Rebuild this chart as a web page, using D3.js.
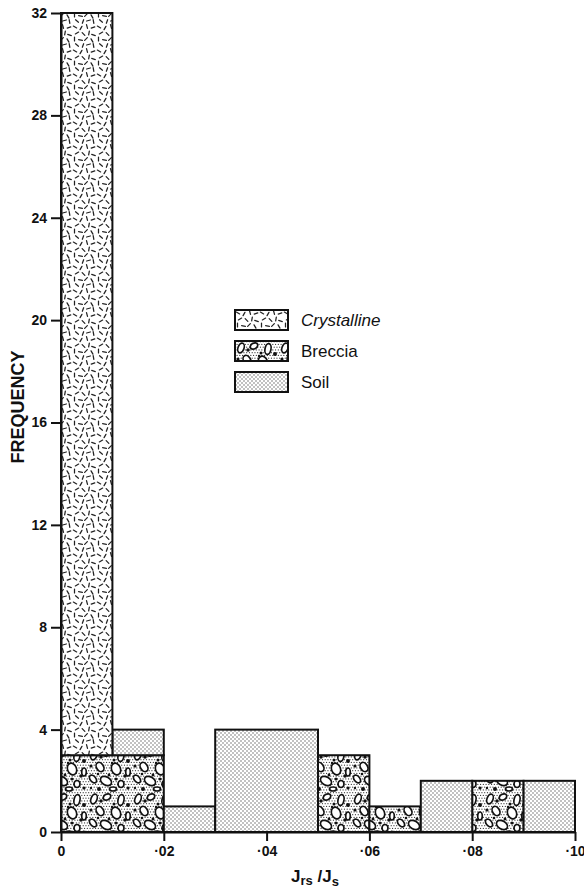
<!DOCTYPE html>
<html>
<head>
<meta charset="utf-8">
<script src="https://cdn.jsdelivr.net/npm/d3@7"></script>
<style>
  body { margin: 0; background: #fff; }
  svg { display: block; font-family: "Liberation Sans", Arial, sans-serif; }
</style>
</head>
<body>
<div id="chart"></div>
<script>
const width = 584;
const height = 892;
const margin = { top: 13, right: 9, bottom: 60, left: 61 };

// 数据：每个区间宽 0.01
const binStarts = [0, 0.01, 0.02, 0.03, 0.04, 0.05, 0.06, 0.07, 0.08, 0.09];
const binWidth = 0.01;
const categories = ["Breccia", "Soil", "Crystalline"];   // 堆叠顺序（自下而上）
const breccia = [3, 3, 0, 0, 0, 3, 1, 0, 2, 0];
const soil = [0, 1, 1, 4, 4, 0, 0, 2, 0, 2];
const crystalline = [29, 0, 0, 0, 0, 0, 0, 0, 0, 0];
const legendOrder = ["Crystalline", "Breccia", "Soil"];
const yTicks = [0, 4, 8, 12, 16, 20, 24, 28, 32];
const xTicks = [0, 0.02, 0.04, 0.06, 0.08, 0.10];

const series = { Breccia: breccia, Soil: soil, Crystalline: crystalline };

const x = d3.scaleLinear().domain([0, 0.10]).range([margin.left, width - margin.right]);
const y = d3.scaleLinear().domain([0, 32]).range([height - margin.bottom, margin.top]);

const svg = d3.select("#chart").append("svg")
  .attr("width", width)
  .attr("height", height);

// 图案定义
const defs = svg.append("defs");

// Soil：细点
const soilPat = defs.append("pattern")
  .attr("id", "pat-Soil").attr("patternUnits", "userSpaceOnUse")
  .attr("width", 4).attr("height", 4);
soilPat.append("rect").attr("width", 4).attr("height", 4).attr("fill", "#fff");
[[1, 1], [3, 3]].forEach(([cx, cy]) => {
  soilPat.append("circle").attr("cx", cx).attr("cy", cy).attr("r", 0.7).attr("fill", "#555");
});

// Crystalline：短划线
const crysPat = defs.append("pattern")
  .attr("id", "pat-Crystalline").attr("patternUnits", "userSpaceOnUse")
  .attr("width", 24).attr("height", 24);
crysPat.append("rect").attr("width", 24).attr("height", 24).attr("fill", "#fff");
const dashes = [
  [3, 3, 30], [9, 4, 120], [15, 2.5, 75], [21, 3.5, 160],
  [5, 9, 150], [11.5, 10, 45], [17, 9, 100], [21.5, 11, 20],
  [2.5, 15, 90], [8.5, 16, 10], [14, 15, 135], [20, 16.5, 60],
  [5, 21, 40], [11, 21.5, 110], [16.5, 20.5, 165], [21.5, 21.5, 80]
];
dashes.forEach(([cx, cy, a]) => {
  crysPat.append("line")
    .attr("x1", -1.9).attr("x2", 1.9).attr("y1", 0).attr("y2", 0)
    .attr("transform", `translate(${cx},${cy}) rotate(${a})`)
    .attr("stroke", "#222").attr("stroke-width", 1.25).attr("stroke-linecap", "round");
});

// Breccia：点状底纹 + 白色卵石 + 黑点
const brecPat = defs.append("pattern")
  .attr("id", "pat-Breccia").attr("patternUnits", "userSpaceOnUse")
  .attr("width", 44).attr("height", 44);
brecPat.append("rect").attr("width", 44).attr("height", 44).attr("fill", "#fff");
for (let i = 0; i < 16; i++) {
  for (let j = 0; j < 16; j++) {
    brecPat.append("circle")
      .attr("cx", i * 2.75 + (j % 2) * 1.375 + 0.7).attr("cy", j * 2.75 + 0.7)
      .attr("r", 0.6).attr("fill", "#333");
  }
}
const pebbles = [
  [6, 7, 3, 5, 20], [19, 5, 4, 2.8, -30], [33, 8, 3, 5.5, 10],
  [12, 19, 5, 3.5, 60], [28, 21, 4.5, 6, -20], [40, 24, 2.3, 4, 0],
  [5, 31, 2.8, 4.5, -40], [18, 33, 6, 4, 30], [33, 36, 3, 3.5, 0], [25, 41, 3.5, 2, 0]
];
pebbles.forEach(([cx, cy, rx, ry, a]) => {
  brecPat.append("ellipse")
    .attr("rx", rx).attr("ry", ry)
    .attr("transform", `translate(${cx},${cy}) rotate(${a})`)
    .attr("fill", "#fff").attr("stroke", "#111").attr("stroke-width", 1.7);
});
[[13, 9, 1.8], [26, 12, 1.5], [40, 13, 2], [3, 18, 1.6], [21, 27, 1.4], [37, 28, 1.8],
 [10, 26, 1.3], [11, 41, 2], [28, 31, 1.5], [40, 40, 1.6], [3, 40, 1.2], [24, 15, 1.2]].forEach(([cx, cy, r]) => {
  brecPat.append("circle").attr("cx", cx).attr("cy", cy).attr("r", r).attr("fill", "#111");
});

// 计算堆叠，并合并相邻且高度相同的区块
const blocks = [];
const base = binStarts.map(() => 0);
categories.forEach(cat => {
  const vals = series[cat];
  let current = null;
  binStarts.forEach((x0, i) => {
    const v = vals[i];
    const y0 = base[i];
    const y1 = y0 + v;
    if (v > 0) {
      if (current && current.endIndex === i - 1 && current.y0 === y0 && current.y1 === y1) {
        current.x1 = x0 + binWidth;
        current.endIndex = i;
      } else {
        current = { cat, x0, x1: x0 + binWidth, y0, y1, endIndex: i };
        blocks.push(current);
      }
    } else {
      current = null;
    }
    base[i] = y1;
  });
});

svg.append("g")
  .selectAll("rect")
  .data(blocks)
  .enter().append("rect")
  .attr("x", d => x(d.x0))
  .attr("y", d => y(d.y1))
  .attr("width", d => x(d.x1) - x(d.x0))
  .attr("height", d => y(d.y0) - y(d.y1))
  .attr("fill", d => `url(#pat-${d.cat})`)
  .attr("stroke", "#111")
  .attr("stroke-width", 2);

// 坐标轴
const yAxis = svg.append("g")
  .attr("transform", `translate(${margin.left},0)`)
  .call(d3.axisLeft(y).tickValues(yTicks).tickSize(10).tickSizeOuter(0).tickPadding(4));

const xAxis = svg.append("g")
  .attr("transform", `translate(0,${height - margin.bottom})`)
  .call(d3.axisBottom(x).tickValues(xTicks).tickSize(9).tickSizeOuter(0).tickPadding(5)
    .tickFormat(d => d === 0 ? "0" : "·" + d3.format("02")(Math.round(d * 100))));

[yAxis, xAxis].forEach(g => {
  g.select(".domain").attr("stroke", "#111").attr("stroke-width", 2);
  g.selectAll(".tick line").attr("stroke", "#111").attr("stroke-width", 2);
  g.selectAll(".tick text")
    .attr("fill", "#111")
    .style("font-size", "14px")
    .style("font-weight", "bold")
    .style("font-family", "'Liberation Sans', Arial, sans-serif");
});

// 坐标轴标题
svg.append("text")
  .attr("transform", "translate(24,407) rotate(-90)")
  .attr("text-anchor", "middle")
  .attr("font-size", 18)
  .attr("font-weight", "bold")
  .attr("fill", "#111")
  .text("FREQUENCY");

const xTitle = svg.append("text")
  .attr("x", 315)
  .attr("y", 882)
  .attr("text-anchor", "middle")
  .attr("font-size", 17)
  .attr("font-weight", "bold")
  .attr("fill", "#111");
xTitle.append("tspan").text("J");
xTitle.append("tspan").attr("font-size", 13).attr("dy", 3).text("rs");
xTitle.append("tspan").attr("dy", -3).text(" /J");
xTitle.append("tspan").attr("font-size", 13).attr("dy", 4).text("s");

// 图例
const legend = svg.append("g")
  .selectAll("g")
  .data(legendOrder)
  .enter().append("g")
  .attr("transform", (d, i) => `translate(235,${310 + i * 31})`);

legend.append("rect")
  .attr("width", 53)
  .attr("height", 20)
  .attr("fill", d => `url(#pat-${d})`)
  .attr("stroke", "#111")
  .attr("stroke-width", 2);

legend.append("text")
  .attr("x", 66)
  .attr("y", 16)
  .attr("font-size", 17)
  .attr("fill", "#111")
  .attr("font-style", d => d === "Crystalline" ? "italic" : "normal")
  .text(d => d);
</script>
</body>
</html>
